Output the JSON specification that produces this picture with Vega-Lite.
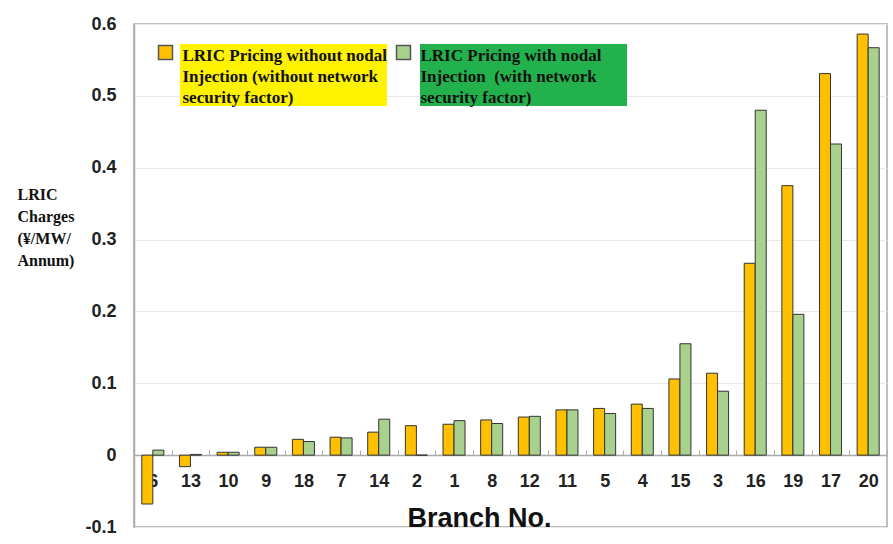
{
  "$schema": "https://vega.github.io/schema/vega-lite/v6.json",
  "width": 753,
  "height": 503,
  "autosize": {"type": "none"},
  "padding": {"left": 134, "top": 24, "right": 6, "bottom": 17},
  "background": "white",
  "config": {
    "font": "Liberation Sans",
    "view": {"stroke": "#aaaaaa", "strokeWidth": 1.5},
    "axis": {"labelFont": "Liberation Sans"}
  },
  "data": {
    "values": [
      {"branch": "6", "series": "without", "value": -0.068},
      {"branch": "6", "series": "with", "value": 0.007},
      {"branch": "13", "series": "without", "value": -0.016},
      {"branch": "13", "series": "with", "value": 0.001},
      {"branch": "10", "series": "without", "value": 0.004},
      {"branch": "10", "series": "with", "value": 0.004},
      {"branch": "9", "series": "without", "value": 0.011},
      {"branch": "9", "series": "with", "value": 0.011},
      {"branch": "18", "series": "without", "value": 0.022},
      {"branch": "18", "series": "with", "value": 0.019},
      {"branch": "7", "series": "without", "value": 0.025},
      {"branch": "7", "series": "with", "value": 0.024},
      {"branch": "14", "series": "without", "value": 0.032},
      {"branch": "14", "series": "with", "value": 0.050},
      {"branch": "2", "series": "without", "value": 0.041},
      {"branch": "2", "series": "with", "value": 0},
      {"branch": "1", "series": "without", "value": 0.043},
      {"branch": "1", "series": "with", "value": 0.048},
      {"branch": "8", "series": "without", "value": 0.049},
      {"branch": "8", "series": "with", "value": 0.044},
      {"branch": "12", "series": "without", "value": 0.053},
      {"branch": "12", "series": "with", "value": 0.054},
      {"branch": "11", "series": "without", "value": 0.063},
      {"branch": "11", "series": "with", "value": 0.063},
      {"branch": "5", "series": "without", "value": 0.065},
      {"branch": "5", "series": "with", "value": 0.058},
      {"branch": "4", "series": "without", "value": 0.071},
      {"branch": "4", "series": "with", "value": 0.065},
      {"branch": "15", "series": "without", "value": 0.106},
      {"branch": "15", "series": "with", "value": 0.155},
      {"branch": "3", "series": "without", "value": 0.114},
      {"branch": "3", "series": "with", "value": 0.089},
      {"branch": "16", "series": "without", "value": 0.267},
      {"branch": "16", "series": "with", "value": 0.480},
      {"branch": "19", "series": "without", "value": 0.375},
      {"branch": "19", "series": "with", "value": 0.196},
      {"branch": "17", "series": "without", "value": 0.531},
      {"branch": "17", "series": "with", "value": 0.433},
      {"branch": "20", "series": "without", "value": 0.586},
      {"branch": "20", "series": "with", "value": 0.567}
    ]
  },
  "encoding": {
    "x": {
      "field": "branch",
      "type": "nominal",
      "sort": ["6","13","10","9","18","7","14","2","1","8","12","11","5","4","15","3","16","19","17","20"],
      "scale": {"paddingInner": 0, "paddingOuter": 0},
      "axis": {
        "orient": "bottom",
        "offset": -72,
        "labelAngle": 0,
        "labelFontSize": 18,
        "labelFontWeight": "bold",
        "labelColor": "#222222",
        "labelPadding": 22,
        "domainColor": "#aaaaaa",
        "domainWidth": 1.5,
        "tickBand": "extent",
        "tickSize": -5,
        "tickColor": "#aaaaaa",
        "title": "Branch No.",
        "titleFontSize": 27,
        "titleFontWeight": "bold",
        "titleColor": "#111111",
        "titleX": 345,
        "titleY": 71,
        "titleBaseline": "alphabetic"
      }
    },
    "xOffset": {
      "field": "series",
      "type": "nominal",
      "scale": {"domain": ["without", "with"], "paddingOuter": 0.71, "paddingInner": 0}
    },
    "y": {
      "field": "value",
      "type": "quantitative",
      "scale": {"domain": [-0.1, 0.6], "nice": false, "zero": false},
      "axis": {
        "values": [-0.1, 0, 0.1, 0.2, 0.3, 0.4, 0.5, 0.6],
        "labelExpr": "toString(round(datum.value*10)/10)",
        "labelFontSize": 18,
        "labelFontWeight": "bold",
        "labelColor": "#222222",
        "labelPadding": 18,
        "ticks": false,
        "domainColor": "#aaaaaa",
        "domainWidth": 1.5,
        "gridColor": "#e8e8e8",
        "title": ["LRIC", "Charges", "(¥/MW/", "Annum)"],
        "titleFont": "Liberation Serif",
        "titleFontSize": 16,
        "titleFontWeight": "bold",
        "titleColor": "#111111",
        "titleAngle": 0,
        "titleAlign": "left",
        "titleBaseline": "top",
        "titleLineHeight": 22,
        "titleX": -117,
        "titleY": 162
      }
    }
  },
  "layer": [
    {
      "transform": [{"filter": "datum.series == 'without'"}],
      "mark": {"type": "bar", "stroke": "#333333", "strokeWidth": 1},
      "encoding": {
        "color": {
          "field": "series",
          "type": "nominal",
          "scale": {"domain": ["without"], "range": ["#FFC000"]},
          "legend": {
            "orient": "none",
            "legendX": 46,
            "legendY": 20,
            "title": null,
            "fillColor": "#FFF200",
            "padding": 0,
            "symbolType": "square",
            "symbolSize": 196,
            "symbolStrokeColor": "#555555",
            "symbolStrokeWidth": 1.5,
            "symbolOffset": -23,
            "labelOffset": 8.5,
            "labelFont": "Liberation Serif",
            "labelFontSize": 17,
            "labelFontWeight": "bold",
            "labelColor": "#111111",
            "labelLimit": 400,
            "labelExpr": "['LRIC Pricing without nodal', 'Injection (without network', 'security factor)']",
            "labelBaseline": "top",
            "encode": {
              "labels": {"update": {"lineHeight": {"value": 21}, "dy": {"value": -5}}},
              "symbols": {"update": {"dy": {"value": 5}}}
            }
          }
        }
      }
    },
    {
      "transform": [{"filter": "datum.series == 'with'"}],
      "mark": {"type": "bar", "stroke": "#333333", "strokeWidth": 1},
      "encoding": {
        "color": {
          "field": "series",
          "type": "nominal",
          "scale": {"domain": ["with"], "range": ["#A9D18E"]},
          "legend": {
            "orient": "none",
            "legendX": 286,
            "legendY": 20,
            "title": null,
            "fillColor": "#22B14C",
            "padding": 0,
            "symbolType": "square",
            "symbolSize": 196,
            "symbolStrokeColor": "#555555",
            "symbolStrokeWidth": 1.5,
            "symbolOffset": -25,
            "labelOffset": 8.5,
            "labelFont": "Liberation Serif",
            "labelFontSize": 17,
            "labelFontWeight": "bold",
            "labelColor": "#111111",
            "labelLimit": 400,
            "labelExpr": "['LRIC Pricing with nodal\u00a0\u00a0\u00a0\u2800', 'Injection\u00a0\u00a0(with network', 'security factor)']",
            "labelBaseline": "top",
            "encode": {
              "labels": {"update": {"lineHeight": {"value": 21}, "dy": {"value": -5}}},
              "symbols": {"update": {"dy": {"value": 5}}}
            }
          }
        }
      }
    }
  ],
  "resolve": {"scale": {"color": "independent"}, "legend": {"color": "independent"}}
}
